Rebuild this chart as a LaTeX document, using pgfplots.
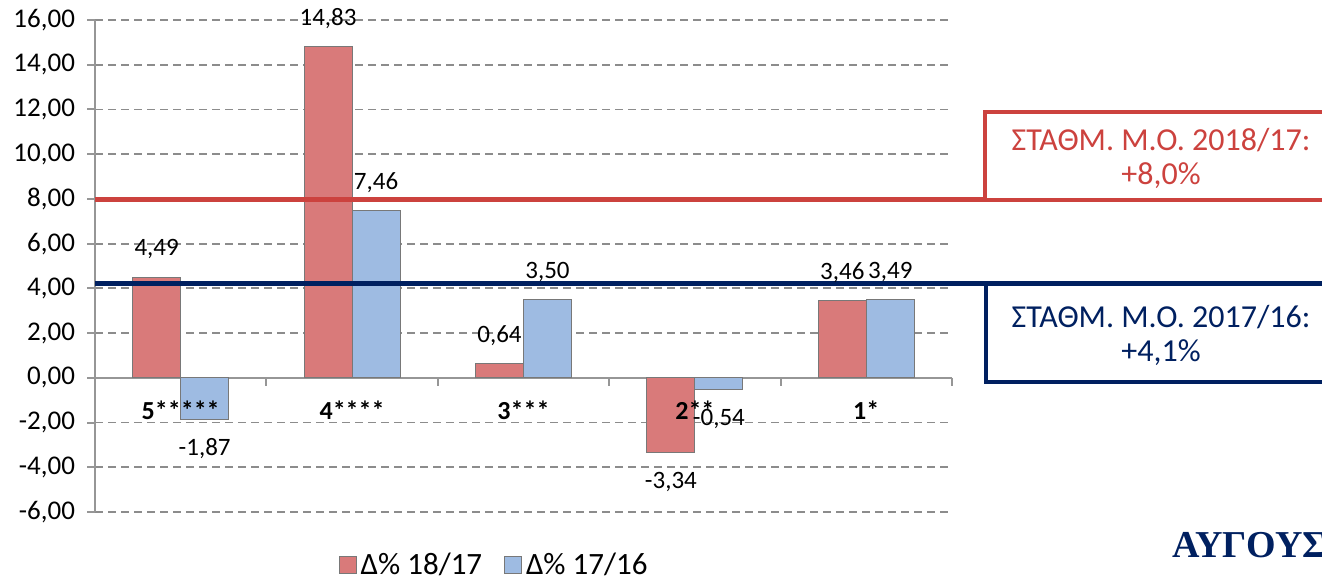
\documentclass[border=0pt]{standalone}
\usepackage{fontspec}
\setmainfont{Carlito}
\newfontfamily\serifgr{Liberation Serif}
\usepackage{pgfplots}
\usepackage{pgfplotstable}
\pgfplotsset{compat=1.18}

\definecolor{barRed}{RGB}{217,122,122}
\definecolor{barBlue}{RGB}{158,187,226}
\definecolor{barEdge}{RGB}{120,120,120}
\definecolor{lineRed}{RGB}{204,66,62}
\definecolor{lineNavy}{RGB}{0,32,96}
\definecolor{gridGray}{RGB}{140,140,140}
\definecolor{axisGray}{RGB}{150,150,150}

% categories 5*****, 4****, 3***, 2**, 1* at x = 0..4
\pgfplotstableread{
x d1817 d1716
0 4.49 -1.87
1 14.83 7.46
2 0.64 3.50
3 -3.34 -0.54
4 3.46 3.49
}\datatable

\pgfkeys{/pgf/number format/.cd, use comma, fixed, fixed zerofill, precision=2, assume math mode=true}

\begin{document}
\begin{tikzpicture}[x=1pt,y=1pt]
\useasboundingbox (0,0) rectangle (661,291.5);
\clip (0,0) rectangle (661,291.5);
\begin{axis}[
  at={(47.5pt,35.5pt)}, anchor=south west,
  scale only axis, width=428.5pt, height=246pt,
  xmin=-0.5, xmax=4.5, ymin=-6, ymax=16,
  ytick={-6,-4,...,16},
  bar width=24pt,
  axis y line*=left, axis x line=none,
  y axis line style={axisGray, line width=1pt},
  ytick style={axisGray, line width=1pt},
  tick align=outside, major tick length=4pt,
  yticklabel style={font=\fontsize{13.5}{15}\selectfont, xshift=-2.5pt},
  ymajorgrids,
  grid style={gridGray, line width=0.9pt, dash pattern=on 4pt off 2.5pt},
  clip=false,
  legend style={at={(0.467,-0.108)}, anchor=center, draw=none,
    font=\fontsize{15.5}{17}\selectfont, legend columns=2,
    /tikz/every even column/.append style={column sep=9pt}},
  visualization depends on={y \as \rawy},
  nodes near coords style={font=\fontsize{12.5}{14}\selectfont, text=black},
]
  % zero line with category boundary ticks
  \draw[axisGray, line width=1pt] (axis cs:-0.5,0) -- (axis cs:4.5,0);
  \pgfplotsinvokeforeach{0.5,1.5,2.5,3.5,4.5}{
    \draw[axisGray, line width=1pt] (axis cs:#1,0) -- ([yshift=-4pt]axis cs:#1,0);
  }

  \addplot[ybar, bar shift=-12pt, fill=barRed, draw=barEdge, line width=0.5pt, forget plot,
    nodes near coords,
    every node near coord/.append style={anchor=center, xshift=-12pt, yshift={ifthenelse(\rawy<0,-14.5,14)*1pt}}]
    table[x=x, y=d1817] {\datatable};
  \addplot[ybar, bar shift=12pt, fill=barBlue, draw=barEdge, line width=0.5pt, forget plot,
    nodes near coords,
    every node near coord/.append style={anchor=center, xshift=12pt, yshift={ifthenelse(\rawy<0,-14.5,14)*1pt}}]
    table[x=x, y=d1716] {\datatable};

  % weighted averages
  \addplot[sharp plot, lineRed, line width=2.5pt, forget plot] coordinates {(-0.5,7.97) (4.69,7.97)};
  \addplot[sharp plot, lineNavy, line width=2.5pt, forget plot] coordinates {(-0.5,4.22) (7.5,4.22)};

  \draw[lineRed, line width=2pt] (axis cs:7.5,11.9) -- (axis cs:4.69,11.9) -- (axis cs:4.69,7.97) -- (axis cs:7.5,7.97);
  \draw[lineNavy, line width=2pt] (axis cs:4.70,4.22) -- (axis cs:4.70,-0.18) -- (axis cs:7.5,-0.18);
  \node[text=lineRed, align=center, font=\fontsize{16}{17}\selectfont] at (axis cs:5.72,9.79) {ΣΤΑΘΜ. Μ.Ο. 2018/17:\\+8,0\%};
  \node[text=lineNavy, align=center, font=\fontsize{16}{17}\selectfont] at (axis cs:5.72,1.88) {ΣΤΑΘΜ. Μ.Ο. 2017/16:\\+4,1\%};

  % category labels
  \node[font=\bfseries\fontsize{13}{15}\selectfont] at (axis cs:0,0) [yshift=-16pt] {5*****};
  \node[font=\bfseries\fontsize{13}{15}\selectfont] at (axis cs:1,0) [yshift=-16pt] {4****};
  \node[font=\bfseries\fontsize{13}{15}\selectfont] at (axis cs:2,0) [yshift=-16pt] {3***};
  \node[font=\bfseries\fontsize{13}{15}\selectfont] at (axis cs:3,0) [yshift=-16pt] {2**};
  \node[font=\bfseries\fontsize{13}{15}\selectfont] at (axis cs:4,0) [yshift=-16pt] {1*};

  \addlegendimage{legend image code/.code={\draw[fill=barRed, draw=barEdge] (0pt,-4.25pt) rectangle (8.5pt,4.25pt);}}
  \addlegendentry{Δ\% 18/17}
  \addlegendimage{legend image code/.code={\draw[fill=barBlue, draw=barEdge] (0pt,-4.25pt) rectangle (8.5pt,4.25pt);}}
  \addlegendentry{Δ\% 17/16}
\end{axis}
\node[anchor=west, inner sep=0pt, text=lineNavy, font=\serifgr\bfseries\fontsize{19}{22}\selectfont] at (586,19) {ΑΥΓΟΥΣΤΟΣ};
\end{tikzpicture}
\end{document}
